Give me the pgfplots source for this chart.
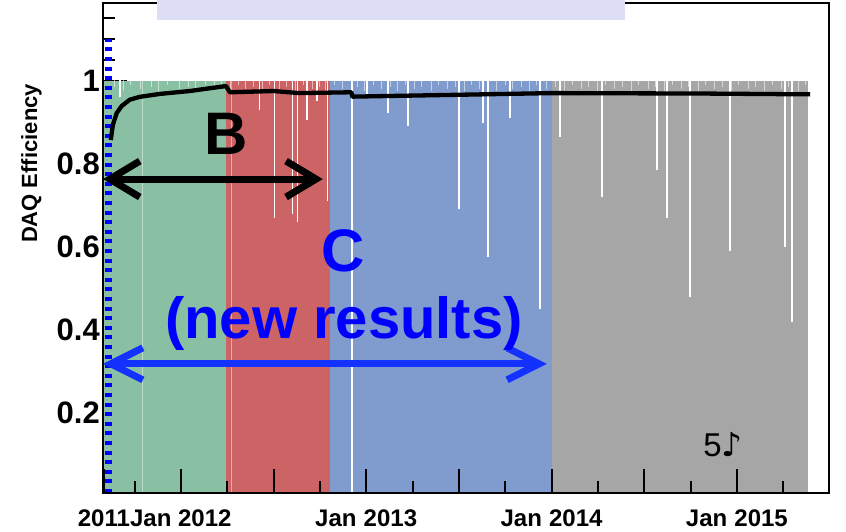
\documentclass[border=0pt]{standalone}
\usepackage{pgfplots}
\pgfplotsset{compat=1.18}
\usepackage{fontspec}
\setmainfont{Liberation Sans}
\newfontfamily\dejavu{DejaVu Sans}
\usetikzlibrary{arrows.meta}
\definecolor{cgreen}{RGB}{137,192,163}
\definecolor{cred}{RGB}{204,100,102}
\definecolor{cblue}{RGB}{128,156,206}
\definecolor{cgray}{RGB}{166,166,166}
\definecolor{lav}{RGB}{221,222,245}
\definecolor{arrowblue}{RGB}{20,50,255}
% x values are years after 1 Jan 2011
\begin{document}
\begin{tikzpicture}[x=1pt,y=1pt]
\useasboundingbox (0pt,0pt) rectangle (846pt,531pt);
\begin{axis}[
  at={(103pt,38pt)}, anchor=south west,
  scale only axis, width=726pt, height=490pt,
  xmin=0.58, xmax=4.497, ymin=0.007, ymax=1.187,
  axis line style={line width=1.2pt},
  tick pos=left, tick align=inside,
  major tick length=24pt, minor tick length=12pt,
  tick style={black, line width=2pt},
  xtick=\empty,
  ytick={0.2,0.4,0.6,0.8,1},
  yticklabels={0.2,0.4,0.6,0.8,1},
  minor ytick={0.05,0.1,0.15,0.25,0.3,0.35,0.45,0.5,0.55,0.65,0.7,0.75,0.85,0.9,0.95,1.05,1.1,1.15},
  yticklabel style={font=\bfseries\fontsize{31}{31}\selectfont, inner sep=0pt, anchor=east, xshift=-3pt},
  ylabel={DAQ Efficiency},
  ylabel style={font=\bfseries\fontsize{22}{22}\selectfont, at={(axis description cs:-0.0909,0.6724)}, anchor=base},
  unbounded coords=jump,
  clip=false,
]
% run periods (filled areas)
\addplot[fill=cgreen, draw=none] coordinates {(0.58,0.007) (0.58,1.0) (1.246,1.0) (1.246,0.007)};
\addplot[fill=cred, draw=none] coordinates {(1.246,0.007) (1.246,1.0) (1.804,1.0) (1.804,0.007)};
\addplot[fill=cblue, draw=none] coordinates {(1.804,0.007) (1.804,1.0) (3.0,1.0) (3.0,0.007)};
\addplot[fill=cgray, draw=none] coordinates {(3.0,0.007) (3.0,1.0) (4.385,1.0) (4.385,0.007)};
% fuzzy tops
\addplot[white, opacity=0.55, line width=0.8pt] coordinates {
(0.64,0.985)(0.64,1.01)(0.64,nan)(0.69,0.975)(0.69,1.01)(0.69,nan)
(0.73,0.99)(0.73,1.01)(0.73,nan)(0.78,0.98)(0.78,1.01)(0.78,nan)
(0.84,0.985)(0.84,1.01)(0.84,nan)(0.88,0.975)(0.88,1.01)(0.88,nan)
(0.93,0.99)(0.93,1.01)(0.93,nan)(0.99,0.98)(0.99,1.01)(0.99,nan)
(1.04,0.985)(1.04,1.01)(1.04,nan)(1.08,0.975)(1.08,1.01)(1.08,nan)
(1.13,0.99)(1.13,1.01)(1.13,nan)(1.18,0.98)(1.18,1.01)(1.18,nan)
(1.22,0.985)(1.22,1.01)(1.22,nan)(1.27,0.975)(1.27,1.01)(1.27,nan)
(1.31,0.99)(1.31,1.01)(1.31,nan)(1.35,0.98)(1.35,1.01)(1.35,nan)
(1.39,0.985)(1.39,1.01)(1.39,nan)(1.44,0.975)(1.44,1.01)(1.44,nan)
(1.48,0.99)(1.48,1.01)(1.48,nan)(1.53,0.98)(1.53,1.01)(1.53,nan)
(1.57,0.985)(1.57,1.01)(1.57,nan)(1.62,0.975)(1.62,1.01)(1.62,nan)
(1.66,0.99)(1.66,1.01)(1.66,nan)(1.71,0.98)(1.71,1.01)(1.71,nan)
(1.75,0.985)(1.75,1.01)(1.75,nan)(1.78,0.975)(1.78,1.01)(1.78,nan)
(1.83,0.99)(1.83,1.01)(1.83,nan)(1.87,0.98)(1.87,1.01)(1.87,nan)
(1.95,0.985)(1.95,1.01)(1.95,nan)(1.99,0.975)(1.99,1.01)(1.99,nan)
(2.04,0.99)(2.04,1.01)(2.04,nan)(2.08,0.98)(2.08,1.01)(2.08,nan)
(2.13,0.985)(2.13,1.01)(2.13,nan)(2.17,0.975)(2.17,1.01)(2.17,nan)
(2.21,0.99)(2.21,1.01)(2.21,nan)(2.26,0.98)(2.26,1.01)(2.26,nan)
(2.30,0.985)(2.30,1.01)(2.30,nan)(2.35,0.975)(2.35,1.01)(2.35,nan)
(2.39,0.99)(2.39,1.01)(2.39,nan)(2.44,0.98)(2.44,1.01)(2.44,nan)
(2.48,0.985)(2.48,1.01)(2.48,nan)(2.53,0.975)(2.53,1.01)(2.53,nan)
(2.57,0.99)(2.57,1.01)(2.57,nan)(2.61,0.98)(2.61,1.01)(2.61,nan)
(2.66,0.985)(2.66,1.01)(2.66,nan)(2.70,0.975)(2.70,1.01)(2.70,nan)
(2.75,0.99)(2.75,1.01)(2.75,nan)(2.79,0.98)(2.79,1.01)(2.79,nan)
(2.84,0.985)(2.84,1.01)(2.84,nan)(2.88,0.975)(2.88,1.01)(2.88,nan)
(2.92,0.99)(2.92,1.01)(2.92,nan)(2.97,0.98)(2.97,1.01)(2.97,nan)
(3.02,0.985)(3.02,1.01)(3.02,nan)(3.07,0.975)(3.07,1.01)(3.07,nan)
(3.11,0.99)(3.11,1.01)(3.11,nan)(3.16,0.98)(3.16,1.01)(3.16,nan)
(3.20,0.985)(3.20,1.01)(3.20,nan)(3.25,0.975)(3.25,1.01)(3.25,nan)
(3.29,0.99)(3.29,1.01)(3.29,nan)(3.34,0.98)(3.34,1.01)(3.34,nan)
(3.38,0.985)(3.38,1.01)(3.38,nan)(3.43,0.975)(3.43,1.01)(3.43,nan)
(3.47,0.99)(3.47,1.01)(3.47,nan)(3.52,0.98)(3.52,1.01)(3.52,nan)
(3.56,0.985)(3.56,1.01)(3.56,nan)(3.61,0.975)(3.61,1.01)(3.61,nan)
(3.65,0.99)(3.65,1.01)(3.65,nan)(3.70,0.98)(3.70,1.01)(3.70,nan)
(3.74,0.985)(3.74,1.01)(3.74,nan)(3.79,0.975)(3.79,1.01)(3.79,nan)
(3.83,0.99)(3.83,1.01)(3.83,nan)(3.88,0.98)(3.88,1.01)(3.88,nan)
(3.92,0.985)(3.92,1.01)(3.92,nan)(3.97,0.975)(3.97,1.01)(3.97,nan)
(4.01,0.99)(4.01,1.01)(4.01,nan)(4.06,0.98)(4.06,1.01)(4.06,nan)
(4.10,0.985)(4.10,1.01)(4.10,nan)(4.15,0.975)(4.15,1.01)(4.15,nan)
(4.19,0.99)(4.19,1.01)(4.19,nan)(4.24,0.98)(4.24,1.01)(4.24,nan)
(4.28,0.985)(4.28,1.01)(4.28,nan)(4.33,0.975)(4.33,1.01)(4.33,nan)
(4.37,0.99)(4.37,1.01)
};
% faint full-height lines
\addplot[white, opacity=0.45, line width=1pt] coordinates {
(0.795,0.007)(0.795,1.01)(0.795,nan)
(1.275,0.007)(1.275,1.01)
};
% drop-outs
\addplot[white, line width=1.3pt] coordinates {
(0.671,0.96)(0.671,1.01)(0.671,nan)
(1.426,0.93)(1.426,1.01)(1.426,nan)
(1.507,0.67)(1.507,1.01)(1.507,nan)
(1.604,0.68)(1.604,1.01)(1.604,nan)
(1.631,0.66)(1.631,1.01)(1.631,nan)
(1.680,0.905)(1.680,1.01)(1.680,nan)
(1.734,0.95)(1.734,1.01)(1.734,nan)
(1.793,0.71)(1.793,1.01)(1.793,nan)
(1.923,0.007)(1.923,1.01)(1.923,nan)
(2.004,0.96)(2.004,1.01)(2.004,nan)
(2.117,0.922)(2.117,1.01)(2.117,nan)
(2.225,0.89)(2.225,1.01)(2.225,nan)
(2.500,0.69)(2.500,1.01)(2.500,nan)
(2.630,0.898)(2.630,1.01)(2.630,nan)
(2.657,0.575)(2.657,1.01)(2.657,nan)
(2.776,0.91)(2.776,1.01)(2.776,nan)
(2.937,0.45)(2.937,1.01)(2.937,nan)
(3.045,0.865)(3.045,1.01)(3.045,nan)
(3.272,0.72)(3.272,1.01)(3.272,nan)
(3.569,0.785)(3.569,1.01)(3.569,nan)
(3.623,0.67)(3.623,1.01)(3.623,nan)
(3.747,0.48)(3.747,1.01)(3.747,nan)
(3.963,0.59)(3.963,1.01)(3.963,nan)
(4.260,0.60)(4.260,1.01)(4.260,nan)
(4.297,0.42)(4.297,1.01)
};
% blue dashed marker line
\addplot[blue, line width=7pt, dash pattern=on 4pt off 5.6pt] coordinates {(0.609,0.007) (0.609,1.10)};
% cumulative efficiency
\addplot[black, line width=4.3pt, line join=round] coordinates {
(0.622,0.857) (0.633,0.893) (0.654,0.922) (0.681,0.939) (0.724,0.954)
(0.778,0.961) (0.886,0.968) (1.048,0.975) (1.243,0.987) (1.265,0.972)
(1.5,0.975) (1.64,0.970) (1.92,0.972) (1.925,0.9615) (2.5,0.966)
(3.0,0.970) (3.8,0.969) (4.395,0.967)};
% annotations
\draw[line width=7pt, line cap=round, {Straight Barb[length=30pt,width=36pt]}-{Straight Barb[length=30pt,width=36pt]}]
  (axis cs:0.58,0.763) -- (axis cs:1.766,0.763);
\draw[arrowblue, line width=7pt, line cap=round, {Straight Barb[length=32pt,width=32pt]}-{Straight Barb[length=32pt,width=32pt]}]
  (axis cs:0.58,0.318) -- (axis cs:2.975,0.318);
\node[anchor=base, font=\bfseries\fontsize{60}{60}\selectfont] at (axis cs:1.243,0.821) {B};
\node[anchor=base, blue, font=\bfseries\fontsize{60}{60}\selectfont] at (axis cs:1.874,0.540) {C};
\node[anchor=base, blue, font=\bfseries\fontsize{58}{58}\selectfont] at (axis cs:1.88,0.379) {(new results)};
\node[anchor=base, font=\fontsize{33}{33}\selectfont] at (axis cs:3.925,0.0946) {5{\dejavu ♪}};
\end{axis}
% overlay axis: frame and time ticks on top
\begin{axis}[
  at={(103pt,38pt)}, anchor=south west,
  scale only axis, width=726pt, height=490pt,
  xmin=0.58, xmax=4.497, ymin=0.007, ymax=1.187,
  axis on top,
  axis line style={line width=1.2pt},
  tick pos=left, tick align=inside,
  major tick length=24pt, minor tick length=12pt,
  tick style={black, line width=2pt},
  ytick=\empty,
  xtick={0.585,1,1.5,2,2.5,3,3.5,4},
  xticklabels={2011,Jan 2012,,Jan\hspace{0.3em}2013,,Jan\hspace{0.3em}2014,,Jan\hspace{0.3em}2015},
  minor xtick={0.75,1.25,1.75,2.25,2.75,3.25,3.75,4.25},
  xticklabel style={font=\bfseries\fontsize{24}{24}\selectfont, inner sep=0pt, anchor=north, yshift=-17pt},
]
\end{axis}
\fill[lav] (157pt,511pt) rectangle (625pt,531pt);
\end{tikzpicture}
\end{document}
